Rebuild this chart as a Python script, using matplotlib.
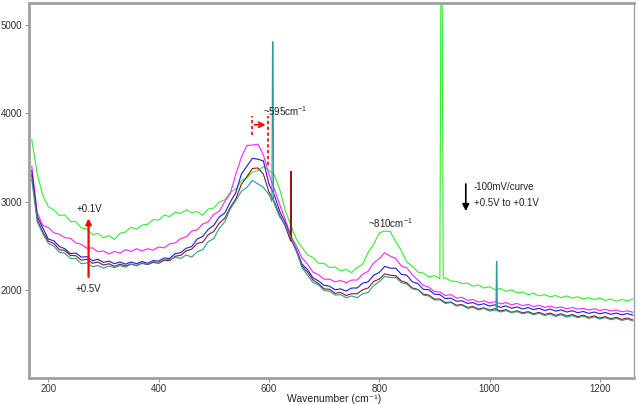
import numpy as np
import matplotlib
matplotlib.use("Agg")
import matplotlib.pyplot as plt

plt.rcParams['font.family'] = ['Liberation Sans', 'DejaVu Sans']
plt.rcParams['mathtext.fontset'] = 'custom'
plt.rcParams['mathtext.rm'] = 'Liberation Sans'
plt.rcParams['mathtext.it'] = 'Liberation Sans'

# wavenumber grid (cm^-1), 170..1260 step 10
wavenumber = np.arange(170, 1261, 10)

green_01V = [
    3700, 3310, 3070, 2940, 2905, 2840, 2850, 2775, 2770, 2700,
    2690, 2625, 2640, 2590, 2615, 2570, 2640, 2655, 2710, 2685,
    2735, 2740, 2795, 2790, 2845, 2830, 2880, 2865, 2905, 2875,
    2885, 2845, 2915, 2925, 2995, 3020, 3105, 3140, 3235, 3270,
    3335, 3350, 3395, 3355, 3300, 3130, 2890, 2730, 2570, 2480,
    2395, 2365, 2300, 2300, 2250, 2260, 2215, 2230, 2195, 2255,
    2290, 2425, 2515, 2645, 2665, 2660, 2545, 2445, 2315, 2270,
    2200, 2190, 2145, 2160, 2125, 2135, 2100, 2095, 2070, 2075,
    2040, 2055, 2020, 2035, 2000, 2015, 1980, 2000, 1965, 1975,
    1945, 1960, 1930, 1945, 1920, 1935, 1910, 1930, 1905, 1920,
    1895, 1910, 1890, 1905, 1880, 1895, 1870, 1890, 1875, 1895]

magenta_02V = [
    3400, 2870, 2730, 2705, 2645, 2630, 2590, 2585, 2530, 2515,
    2470, 2475, 2430, 2440, 2405, 2435, 2415, 2455, 2435, 2465,
    2440, 2465, 2450, 2485, 2475, 2520, 2530, 2580, 2600, 2665,
    2680, 2745, 2770, 2855, 2890, 3000, 3090, 3310, 3500, 3635,
    3640, 3650, 3530, 3310, 3140, 2960, 2790, 2610, 2495, 2360,
    2290, 2200, 2170, 2120, 2120, 2090, 2105, 2080, 2110, 2110,
    2175, 2210, 2305, 2350, 2420, 2380, 2355, 2270, 2250, 2170,
    2110, 2050, 2030, 1980, 1975, 1935, 1945, 1905, 1915, 1880,
    1890, 1860, 1875, 1850, 1865, 1840, 1855, 1830, 1845, 1820,
    1835, 1810, 1825, 1800, 1815, 1795, 1805, 1785, 1800, 1780,
    1790, 1770, 1785, 1765, 1778, 1760, 1770, 1750, 1762, 1745]

blue_03V = [
    3350, 2830, 2700, 2575, 2555, 2490, 2465, 2410, 2415, 2370,
    2375, 2330, 2345, 2310, 2325, 2295, 2315, 2290, 2315, 2295,
    2320, 2300, 2330, 2325, 2360, 2355, 2410, 2420, 2470, 2490,
    2575, 2605, 2685, 2730, 2825, 2870, 2995, 3100, 3310, 3400,
    3490, 3480, 3460, 3200, 3070, 2885, 2755, 2585, 2455, 2290,
    2230, 2135, 2100, 2050, 2040, 2000, 2010, 1985, 2020, 2020,
    2075, 2090, 2165, 2195, 2265, 2245, 2245, 2175, 2165, 2090,
    2070, 2005, 2000, 1950, 1945, 1900, 1905, 1870, 1875, 1845,
    1855, 1828, 1842, 1815, 1830, 1800, 1818, 1790, 1805, 1782,
    1798, 1775, 1790, 1765, 1782, 1758, 1772, 1748, 1762, 1740,
    1754, 1732, 1748, 1728, 1742, 1722, 1736, 1716, 1730, 1712]

brown_04V = [
    3300, 2790, 2655, 2550, 2525, 2455, 2445, 2390, 2385, 2335,
    2345, 2300, 2315, 2280, 2295, 2265, 2290, 2270, 2292, 2275,
    2300, 2285, 2310, 2300, 2335, 2330, 2380, 2390, 2440, 2460,
    2525, 2540, 2625, 2660, 2755, 2810, 2935, 3030, 3195, 3280,
    3375, 3380, 3310, 3110, 2995, 2840, 2715, 2550, 2435, 2270,
    2200, 2110, 2070, 2010, 2005, 1960, 1970, 1935, 1955, 1955,
    2000, 2020, 2095, 2120, 2180, 2165, 2160, 2100, 2080, 2020,
    2005, 1950, 1940, 1895, 1895, 1855, 1862, 1825, 1832, 1800,
    1810, 1782, 1795, 1770, 1785, 1760, 1775, 1745, 1762, 1738,
    1752, 1728, 1744, 1720, 1736, 1710, 1728, 1702, 1720, 1695,
    1712, 1688, 1704, 1680, 1696, 1672, 1688, 1664, 1680, 1658]

teal_05V = [
    3250, 2770, 2635, 2525, 2495, 2425, 2415, 2355, 2355, 2295,
    2305, 2260, 2275, 2245, 2270, 2250, 2275, 2255, 2290, 2270,
    2305, 2290, 2320, 2315, 2350, 2340, 2370, 2355, 2395, 2370,
    2430, 2455, 2545, 2580, 2695, 2770, 2915, 3010, 3115, 3160,
    3240, 3200, 3160, 3080, 2970, 2820, 2735, 2590, 2445, 2250,
    2165, 2080, 2055, 1990, 1985, 1940, 1945, 1910, 1930, 1910,
    1955, 1970, 2050, 2090, 2150, 2140, 2140, 2080, 2065, 2010,
    2000, 1940, 1930, 1885, 1885, 1845, 1855, 1815, 1825, 1790,
    1800, 1772, 1788, 1758, 1772, 1748, 1764, 1740, 1752, 1728,
    1742, 1718, 1734, 1708, 1724, 1698, 1716, 1690, 1706, 1684,
    1700, 1676, 1692, 1668, 1684, 1660, 1676, 1652, 1668, 1646]

# narrow spikes: (series, position, base, top, half width)
spike_series = ['teal', 'brown', 'green', 'teal']
spike_pos = [607, 640, 913, 1013]
spike_base = [3000, 2560, 2130, 1762]
spike_top = [4810, 3340, 6000, 2320]
spike_hw = [1.5, 1.0, 3.0, 1.2]

series = {
    'teal': (teal_05V, '#2a9a9a'),
    'brown': (brown_04V, '#8b1a1a'),
    'blue': (blue_03V, '#1a1ae0'),
    'magenta': (magenta_02V, '#ff22ff'),
    'green': (green_01V, '#33ee33'),
}

fig = plt.figure(figsize=(6.38, 4.04), dpi=100)
ax = fig.add_axes([29/638, 1-378/404, (634-29)/638, (378-3)/404])

for name in ['green', 'magenta', 'blue', 'brown', 'teal']:
    vals, col = series[name]
    x = list(wavenumber.astype(float))
    y = list(vals)
    for s, p, b, t, hw in zip(spike_series, spike_pos, spike_base, spike_top, spike_hw):
        if s == name:
            x += [p - hw, p - hw * 0.3, p + hw * 0.3, p + hw]
            y += [b, t, t, b]
    order = np.argsort(x, kind='stable')
    ax.plot(np.array(x)[order], np.array(y)[order], color=col, lw=0.8)

ax.set_xlim(165, 1262)
ax.set_ylim(1000, 5250)
ax.set_xticks([200, 400, 600, 800, 1000, 1200])
ax.set_yticks([2000, 3000, 4000, 5000])
ax.tick_params(labelsize=7, colors='#999999', labelcolor='#333333', length=3, width=0.8, direction='out', pad=2)
ax.tick_params(axis='x', pad=1.5)
for side, sp in ax.spines.items():
    sp.set_color('#a0a0a0')
    sp.set_linewidth(2.0 if side != 'right' else 1.0)

fs = 7
# ~595 annotation
ax.text(590, 4030, '~595cm$^{-1}$', fontsize=fs, color='#222222', va='center', ha='left')
ax.plot([569, 569], [3756, 3971], color='red', ls=(0, (2, 1.5)), lw=1.2)
ax.plot([598, 598], [3416, 3971], color='red', ls=(0, (2, 1.5)), lw=1.2)
ax.annotate('', xy=(599, 3870), xytext=(569, 3870),
            arrowprops=dict(arrowstyle='->', color='red', lw=1.3, mutation_scale=9))

# red vertical arrow
ax.annotate('', xy=(273, 2840), xytext=(273, 2113),
            arrowprops=dict(arrowstyle='-|>', color='red', lw=1.6, mutation_scale=8))
ax.text(275, 2915, '+0.1V', fontsize=fs, color='#222222', ha='center', va='center')
ax.text(273, 2010, '+0.5V', fontsize=fs, color='#222222', ha='center', va='center')

# ~810
ax.text(820, 2760, '~810cm$^{-1}$', fontsize=fs, color='#222222', ha='center', va='center')

# black arrow and notes
ax.annotate('', xy=(957, 2860), xytext=(957, 3230),
            arrowprops=dict(arrowstyle='-|>', color='black', lw=1.2, mutation_scale=10))
ax.text(971, 3167, '-100mV/curve', fontsize=fs, color='#222222', ha='left', va='center')
ax.text(971, 2985, '+0.5V to +0.1V', fontsize=fs, color='#222222', ha='left', va='center')

fig.text(334/638, 0.0, 'Wavenumber (cm\u207b\u00b9)', fontsize=7.5, color='#222222',
         ha='center', va='bottom', family=['Liberation Sans', 'DejaVu Sans'])

fig.savefig('out.png', dpi=100)
